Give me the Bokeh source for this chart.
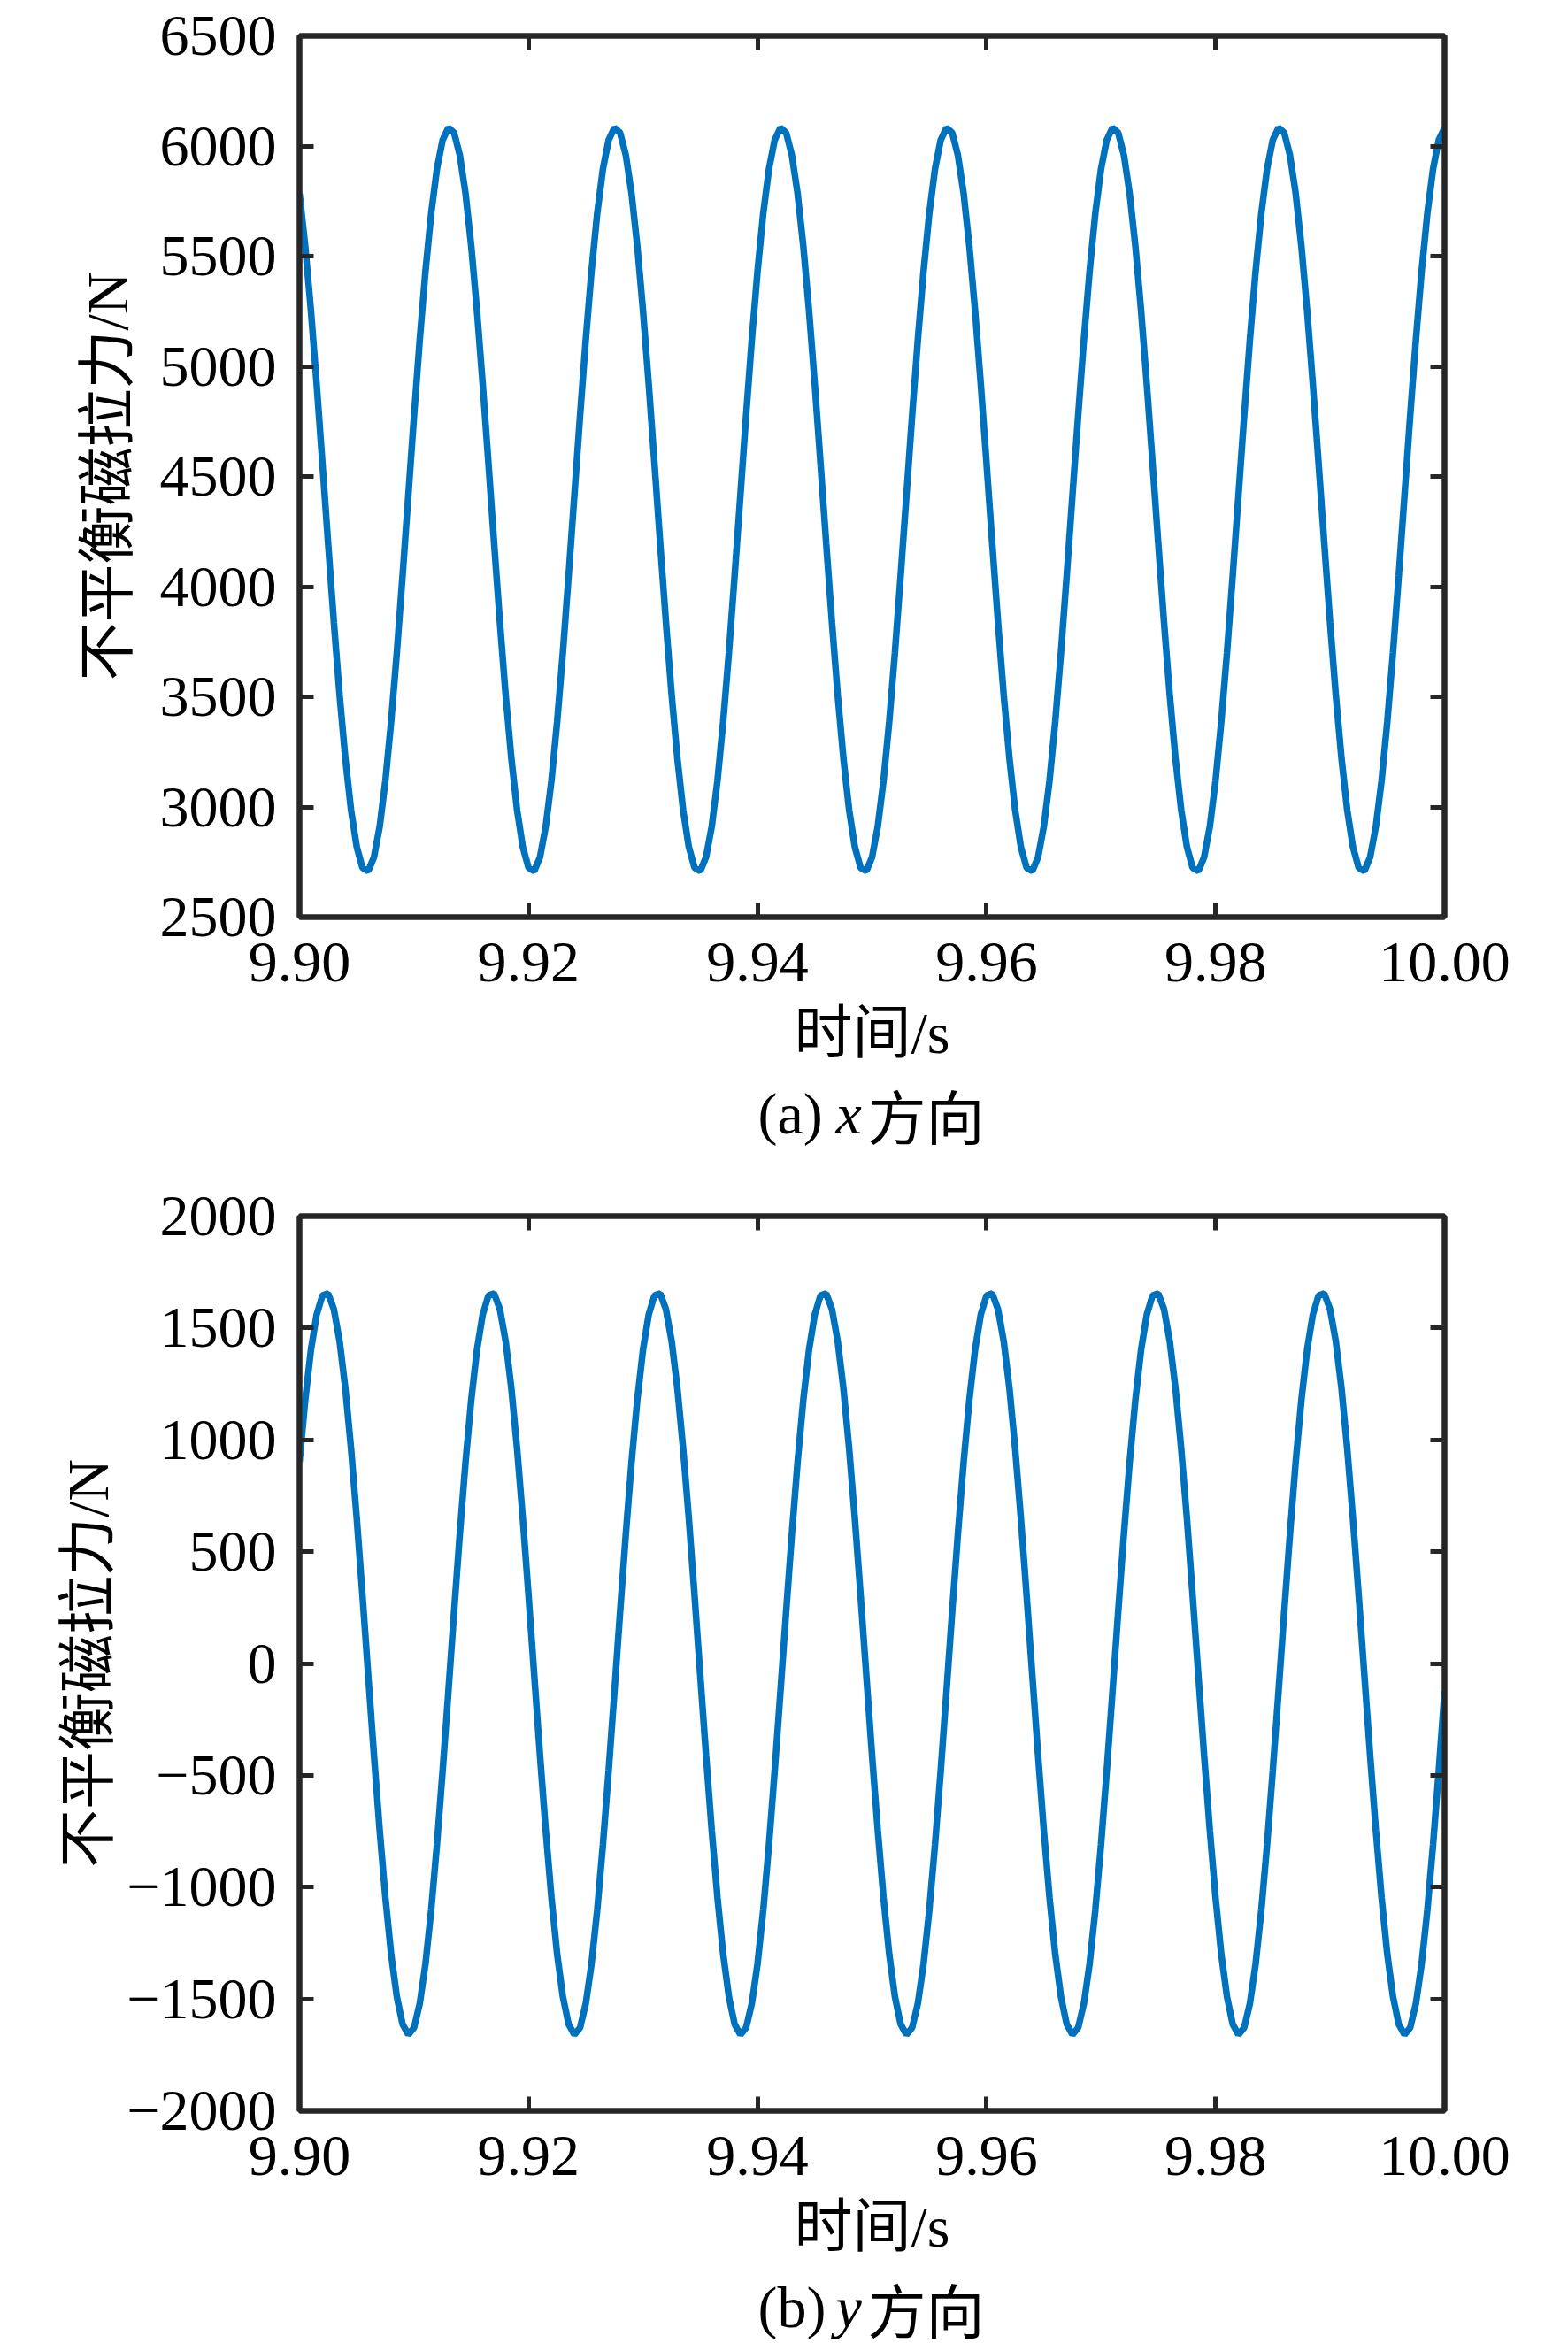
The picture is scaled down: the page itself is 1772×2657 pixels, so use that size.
from bokeh.plotting import figure
from bokeh.models import Range1d, LinearAxis, FixedTicker, Label, NumeralTickFormatter, CustomJSTickFormatter
from bokeh.layouts import column
from bokeh.embed import file_html
from bokeh.resources import INLINE

# time samples (s)
t_s = [
    9.9000, 9.9005, 9.9010, 9.9015, 9.9020, 9.9025, 9.9030, 9.9035, 9.9040, 9.9045,
    9.9050, 9.9055, 9.9060, 9.9065, 9.9070, 9.9075, 9.9080, 9.9085, 9.9090, 9.9095,
    9.9100, 9.9105, 9.9110, 9.9115, 9.9120, 9.9125, 9.9130, 9.9135, 9.9140, 9.9145,
    9.9150, 9.9155, 9.9160, 9.9165, 9.9170, 9.9175, 9.9180, 9.9185, 9.9190, 9.9195,
    9.9200, 9.9205, 9.9210, 9.9215, 9.9220, 9.9225, 9.9230, 9.9235, 9.9240, 9.9245,
    9.9250, 9.9255, 9.9260, 9.9265, 9.9270, 9.9275, 9.9280, 9.9285, 9.9290, 9.9295,
    9.9300, 9.9305, 9.9310, 9.9315, 9.9320, 9.9325, 9.9330, 9.9335, 9.9340, 9.9345,
    9.9350, 9.9355, 9.9360, 9.9365, 9.9370, 9.9375, 9.9380, 9.9385, 9.9390, 9.9395,
    9.9400, 9.9405, 9.9410, 9.9415, 9.9420, 9.9425, 9.9430, 9.9435, 9.9440, 9.9445,
    9.9450, 9.9455, 9.9460, 9.9465, 9.9470, 9.9475, 9.9480, 9.9485, 9.9490, 9.9495,
    9.9500, 9.9505, 9.9510, 9.9515, 9.9520, 9.9525, 9.9530, 9.9535, 9.9540, 9.9545,
    9.9550, 9.9555, 9.9560, 9.9565, 9.9570, 9.9575, 9.9580, 9.9585, 9.9590, 9.9595,
    9.9600, 9.9605, 9.9610, 9.9615, 9.9620, 9.9625, 9.9630, 9.9635, 9.9640, 9.9645,
    9.9650, 9.9655, 9.9660, 9.9665, 9.9670, 9.9675, 9.9680, 9.9685, 9.9690, 9.9695,
    9.9700, 9.9705, 9.9710, 9.9715, 9.9720, 9.9725, 9.9730, 9.9735, 9.9740, 9.9745,
    9.9750, 9.9755, 9.9760, 9.9765, 9.9770, 9.9775, 9.9780, 9.9785, 9.9790, 9.9795,
    9.9800, 9.9805, 9.9810, 9.9815, 9.9820, 9.9825, 9.9830, 9.9835, 9.9840, 9.9845,
    9.9850, 9.9855, 9.9860, 9.9865, 9.9870, 9.9875, 9.9880, 9.9885, 9.9890, 9.9895,
    9.9900, 9.9905, 9.9910, 9.9915, 9.9920, 9.9925, 9.9930, 9.9935, 9.9940, 9.9945,
    9.9950, 9.9955, 9.9960, 9.9965, 9.9970, 9.9975, 9.9980, 9.9985, 9.9990, 9.9995,
    10.0000,
]

# unbalanced magnetic pull, x direction (N)
x_force = [
    5784, 5544, 5250, 4917, 4559, 4194, 3838, 3508, 3220, 2986, 2818, 2724, 2709, 2772, 2911,
    3119, 3387, 3702, 4050, 4413, 4776, 5121, 5432, 5695, 5897, 6028, 6083, 6060, 5958,
    5784, 5544, 5250, 4917, 4559, 4194, 3838, 3508, 3220, 2986, 2818, 2724, 2709, 2772, 2911,
    3119, 3387, 3702, 4050, 4413, 4776, 5121, 5432, 5695, 5897, 6028, 6083, 6060, 5958,
    5784, 5544, 5250, 4917, 4559, 4194, 3838, 3508, 3220, 2986, 2818, 2724, 2709, 2772, 2911,
    3119, 3387, 3702, 4050, 4413, 4776, 5121, 5432, 5695, 5897, 6028, 6083, 6060, 5958,
    5784, 5544, 5250, 4917, 4559, 4194, 3838, 3508, 3220, 2986, 2818, 2724, 2709, 2772, 2911,
    3119, 3387, 3702, 4050, 4413, 4776, 5121, 5432, 5695, 5897, 6028, 6083, 6060, 5958,
    5784, 5544, 5250, 4917, 4559, 4194, 3838, 3508, 3220, 2986, 2818, 2724, 2709, 2772, 2911,
    3119, 3387, 3702, 4050, 4413, 4776, 5121, 5432, 5695, 5897, 6028, 6083, 6060, 5958,
    5784, 5544, 5250, 4917, 4559, 4194, 3838, 3508, 3220, 2986, 2818, 2724, 2709, 2772, 2911,
    3119, 3387, 3702, 4050, 4413, 4776, 5121, 5432, 5695, 5897, 6028, 6083, 6060, 5958,
    5784, 5544, 5250, 4917, 4559, 4194, 3838, 3508, 3220, 2986, 2818, 2724, 2709, 2772, 2911,
    3119, 3387, 3702, 4050, 4413, 4776, 5121, 5432, 5695, 5897, 6028, 6083,
]

# unbalanced magnetic pull, y direction (N)
y_force = [
    902, 1180, 1404, 1561, 1646, 1654, 1584, 1441, 1230, 961, 648, 304, -54, -410, -746,
    -1047, -1300, -1491, -1613, -1660, -1629, -1521, -1343, -1102, -809, -478, -126, 233, 581,
    902, 1180, 1404, 1561, 1646, 1654, 1584, 1441, 1230, 961, 648, 304, -54, -410, -746,
    -1047, -1300, -1491, -1613, -1660, -1629, -1521, -1343, -1102, -809, -478, -126, 233, 581,
    902, 1180, 1404, 1561, 1646, 1654, 1584, 1441, 1230, 961, 648, 304, -54, -410, -746,
    -1047, -1300, -1491, -1613, -1660, -1629, -1521, -1343, -1102, -809, -478, -126, 233, 581,
    902, 1180, 1404, 1561, 1646, 1654, 1584, 1441, 1230, 961, 648, 304, -54, -410, -746,
    -1047, -1300, -1491, -1613, -1660, -1629, -1521, -1343, -1102, -809, -478, -126, 233, 581,
    902, 1180, 1404, 1561, 1646, 1654, 1584, 1441, 1230, 961, 648, 304, -54, -410, -746,
    -1047, -1300, -1491, -1613, -1660, -1629, -1521, -1343, -1102, -809, -478, -126, 233, 581,
    902, 1180, 1404, 1561, 1646, 1654, 1584, 1441, 1230, 961, 648, 304, -54, -410, -746,
    -1047, -1300, -1491, -1613, -1660, -1629, -1521, -1343, -1102, -809, -478, -126, 233, 581,
    902, 1180, 1404, 1561, 1646, 1654, 1584, 1441, 1230, 961, 648, 304, -54, -410, -746,
    -1047, -1300, -1491, -1613, -1660, -1629, -1521, -1343, -1102, -809, -478, -126,
]

x_ticks = [9.90, 9.92, 9.94, 9.96, 9.98, 10.00]
ya_ticks = [2500, 3000, 3500, 4000, 4500, 5000, 5500, 6000, 6500]
yb_ticks = [-2000, -1500, -1000, -500, 0, 500, 1000, 1500, 2000]
yb_tick_labels = ["\u22122000", "\u22121500", "\u22121000", "\u2212500", "0", "500", "1000", "1500", "2000"]

x_label = "时间/s"
y_label = "不平衡磁拉力/N"
caption_tags = ["(a)", "(b)"]
caption_vars = ["x", "y"]
caption_tail = "方向"

LATIN = "Liberation Serif"
MIXED = "'Liberation Serif', 'Noto Sans CJK SC'"
CJK = "Noto Sans CJK SC"
AX = "#262626"
BLUE = "#0072BD"
FS = "66px"
W = 1756
BL, BR = 338, 124
FRAME_W = W - BL - BR


def style_axis(ax, labels=True):
    ax.axis_line_color = AX
    ax.axis_line_width = 6
    ax.major_tick_line_color = AX
    ax.major_tick_line_width = 5
    ax.major_tick_in = 16
    ax.major_tick_out = 0
    ax.minor_tick_line_color = None
    if labels:
        ax.major_label_text_font = LATIN
        ax.major_label_text_font_size = FS
        ax.major_label_text_color = "black"
        ax.axis_label_text_font = MIXED
        ax.axis_label_text_font_size = FS
        ax.axis_label_text_font_style = "normal"
        ax.axis_label_text_color = "black"
    else:
        ax.major_label_text_font_size = "0px"
        ax.major_label_text_color = None
        ax.major_label_standoff = 0


def make_panel(vals, yticks, ylabels, ylo, yhi, height, top, bottom,
               ylab_standoff, xtick_standoff, xlab_standoff):
    p = figure(width=W, height=height,
               x_range=Range1d(9.90, 10.00), y_range=Range1d(ylo, yhi),
               output_backend="svg", toolbar_location=None,
               min_border_left=BL, min_border_right=BR,
               min_border_top=top, min_border_bottom=bottom)
    p.background_fill_color = "white"
    p.border_fill_color = "white"
    p.outline_line_color = AX
    p.outline_line_width = 6
    p.xgrid.visible = False
    p.ygrid.visible = False

    p.line(t_s, vals, line_color=BLUE, line_width=7.5)

    xa = p.xaxis[0]
    xa.ticker = FixedTicker(ticks=x_ticks)
    xa.formatter = NumeralTickFormatter(format="0.00")
    style_axis(xa)
    xa.axis_label = x_label
    xa.major_label_standoff = xtick_standoff
    xa.axis_label_standoff = xlab_standoff

    ya = p.yaxis[0]
    ya.ticker = FixedTicker(ticks=yticks)
    if ylabels is not None:
        ya.major_label_overrides = {k: v for k, v in zip(yticks, ylabels)}
    style_axis(ya)
    ya.axis_label = y_label
    ya.major_label_standoff = 26
    ya.axis_label_standoff = ylab_standoff

    blank = CustomJSTickFormatter(code="return ''")
    ra = LinearAxis(ticker=FixedTicker(ticks=yticks), formatter=blank)
    style_axis(ra, labels=False)
    p.add_layout(ra, "right")
    ta = LinearAxis(ticker=FixedTicker(ticks=x_ticks), formatter=blank)
    style_axis(ta, labels=False)
    p.add_layout(ta, "above")
    return p


def make_caption(tag, var, height, cy):
    # frame aligned with the plot frame above; x measured in px from the frame's left edge
    c = figure(width=W, height=height, x_range=Range1d(0, FRAME_W), y_range=Range1d(0, height),
               x_axis_type=None, y_axis_type=None,
               output_backend="svg", toolbar_location=None,
               min_border_left=BL, min_border_right=BR, min_border_top=0, min_border_bottom=0)
    c.outline_line_color = None
    c.background_fill_color = "white"
    c.border_fill_color = "white"
    common = dict(y=cy, text_font_size=FS, text_baseline="middle", text_align="left",
                  text_color="black")
    c.add_layout(Label(x=518, text=tag, text_font=LATIN, **common))
    c.add_layout(Label(x=606, text=var, text_font=LATIN, text_font_style="italic", **common))
    c.add_layout(Label(x=642, text=caption_tail, text_font=CJK, **common))
    return c


pa = make_panel(x_force, ya_ticks, None, 2500, 6500, 1210, 40, 174, 20, 29, 19)
ca = make_caption(caption_tags[0], caption_vars[0], 100, 52)
pb = make_panel(y_force, yb_ticks, yb_tick_labels, -2000, 2000, 1247, 64, 172, 4, 29, 19)
cb = make_caption(caption_tags[1], caption_vars[1], 98, 48)

layout = column(pa, ca, pb, cb, spacing=0)
open("out.html", "w").write(file_html(layout, INLINE))
